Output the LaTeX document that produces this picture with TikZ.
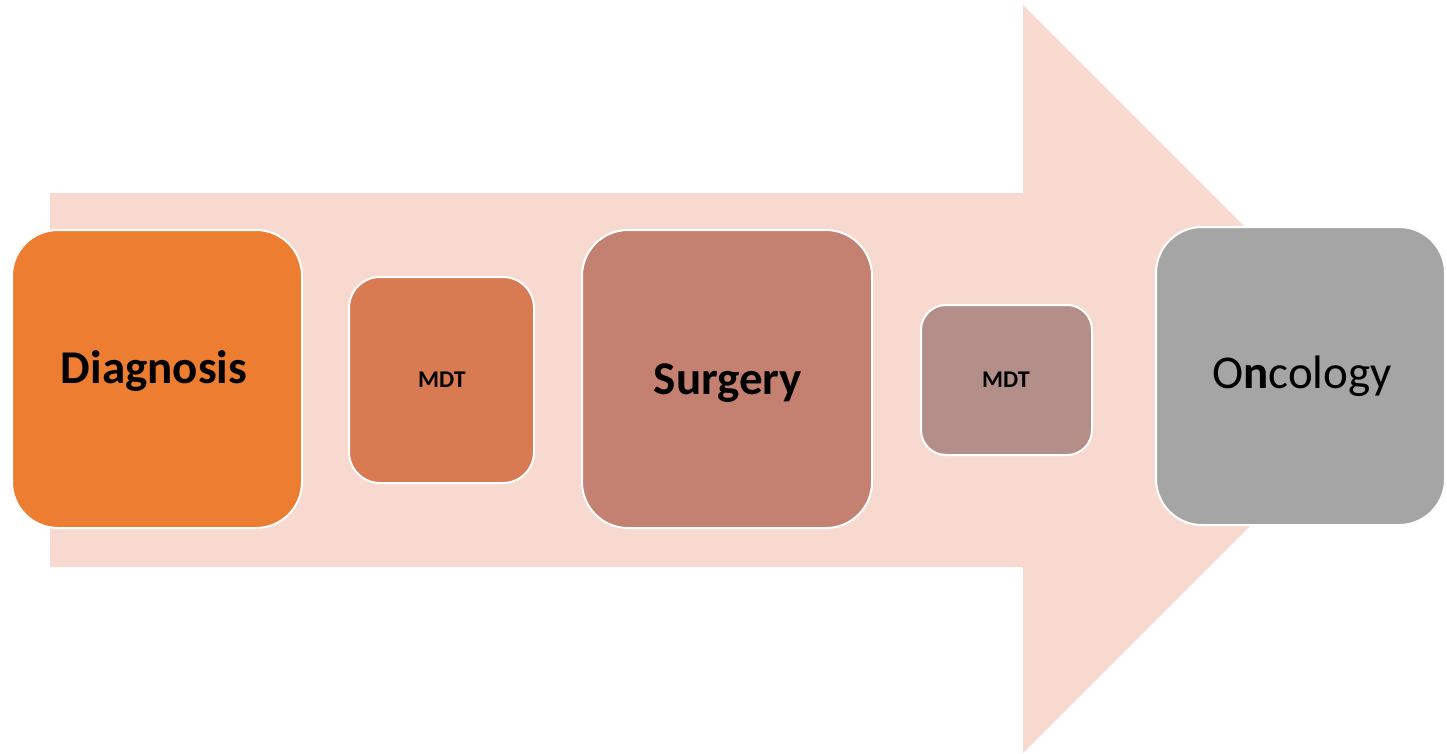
\documentclass[tikz,border=0pt]{standalone}
\usepackage{fontspec}
\setmainfont{Carlito}
\definecolor{arrowfill}{HTML}{F8D9CF}
\definecolor{diagfill}{HTML}{ED7D31}
\definecolor{mdtafill}{HTML}{D87A52}
\definecolor{surgfill}{HTML}{C48070}
\definecolor{mdtbfill}{HTML}{B48F89}
\definecolor{oncofill}{HTML}{A5A5A5}
\tikzset{
  stagebox/.style={draw=white, line width=2pt, inner sep=0pt, rectangle},
  biglabel/.style={anchor=base, inner sep=0pt, font=\fontsize{47}{50}\selectfont},
  smalllabel/.style={anchor=base, inner sep=0pt, font=\fontsize{24}{28}\selectfont\bfseries},
}
\begin{document}
\begin{tikzpicture}[x=1pt, y=-1pt]
\useasboundingbox (0,0) rectangle (1447,754);
% background block arrow
\fill[arrowfill] (50,193) -- (1023,193) -- (1023,5) -- (1397,379)
  -- (1023,753) -- (1023,567) -- (50,567) -- cycle;
% stage boxes
\node[stagebox, fill=diagfill, minimum width=290pt, minimum height=298pt, rounded corners=46pt] (diag) at (157,379) {};
\node[stagebox, fill=mdtafill, minimum width=185pt, minimum height=206pt, rounded corners=31pt] (mdta) at (441.5,380) {};
\node[stagebox, fill=surgfill, minimum width=290pt, minimum height=298pt, rounded corners=46pt] (surg) at (727,379) {};
\node[stagebox, fill=mdtbfill, minimum width=171pt, minimum height=150pt, rounded corners=25pt] (mdtb) at (1006.5,380) {};
\node[stagebox, fill=oncofill, minimum width=289pt, minimum height=298pt, rounded corners=46pt] (onco) at (1300.5,376) {};
% labels
\node[biglabel, font=\fontsize{47}{50}\selectfont\bfseries] (diagt) at (154,383) {Diagnosis};
\node[smalllabel] (mdtat) at (442,387) {MDT};
\node[biglabel, font=\fontsize{47}{50}\selectfont\bfseries] (surgt) at (728,394) {Surgery};
\node[smalllabel] (mdtbt) at (1006,387) {MDT};
\node[biglabel] (oncot) at (1302,388) {O\textbf{n}cology};
\end{tikzpicture}
\end{document}
